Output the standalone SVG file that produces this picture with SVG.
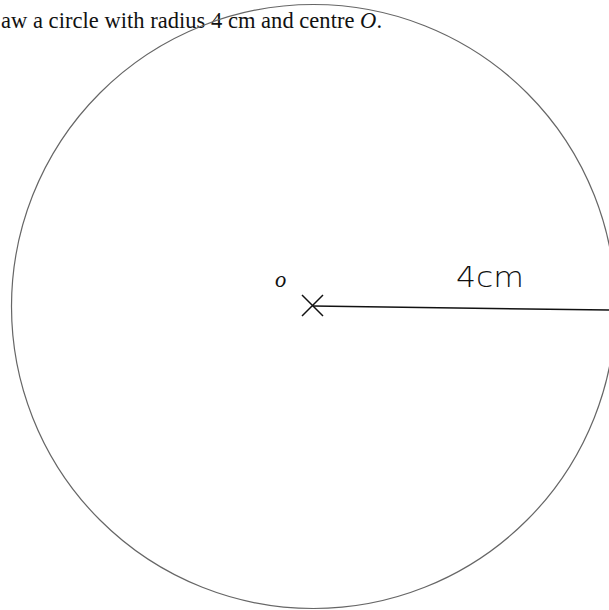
<svg xmlns="http://www.w3.org/2000/svg" width="609" height="610" viewBox="0 0 609 610">
<style>
.q{font-family:"Liberation Serif","Times New Roman",serif;font-size:22.5px;fill:#111}
.h{font-family:"DejaVu Sans","Liberation Sans",sans-serif;fill:#111}
.c{fill:none;stroke:#666;stroke-width:1.2}
.k{stroke:#111;stroke-width:1.5;fill:none}
</style>
<rect width="609" height="610" fill="#fff"/>
<text class="q" x="1" y="28" textLength="381" lengthAdjust="spacing">aw a circle with radius 4 cm and centre <tspan font-style="italic">O</tspan>.</text>
<g id="circle"><ellipse class="c" cx="313.5" cy="306.5" rx="302" ry="302"/></g>
<g id="centre">
<path class="k" d="M302 295L323 316M323 295L302 316"/>
<text class="q" x="275" y="287" font-size="20" font-style="italic">o</text>
</g>
<g id="connectors"><path class="k" d="M313 306L609 310"/></g>
<text class="h" x="456" y="287" font-size="28" font-weight="300" textLength="68" lengthAdjust="spacingAndGlyphs">4cm</text>
</svg>
